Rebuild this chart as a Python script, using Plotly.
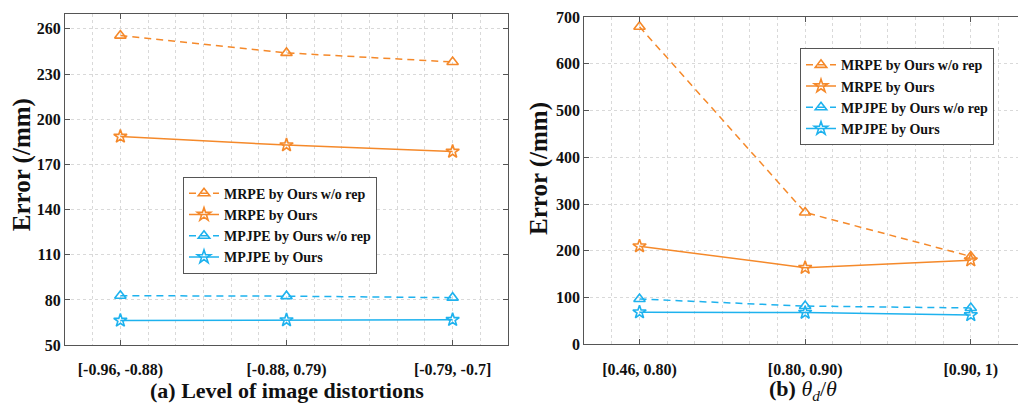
import plotly.graph_objects as go

# Category labels for the two panels
bins_a = ["[-0.96, -0.88)", "[-0.88, 0.79)", "[-0.79, -0.7]"]
bins_b = ["[0.46, 0.80)", "[0.80, 0.90)", "[0.90, 1)"]
pos = [1, 2, 3]

# (a) errors by level of image distortion
mrpe_norep_a = [255.5, 244.0, 238.0]
mrpe_ours_a = [188.5, 182.8, 178.5]
mpjpe_norep_a = [82.8, 82.5, 81.5]
mpjpe_ours_a = [66.3, 66.6, 66.8]

# (b) errors by theta_d / theta
mrpe_norep_b = [679.0, 282.0, 188.0]
mrpe_ours_b = [210.0, 164.0, 180.0]
mpjpe_norep_b = [97.0, 82.0, 78.0]
mpjpe_ours_b = [69.0, 68.0, 63.0]

series_names = ["MRPE by Ours w/o rep", "MRPE by Ours",
                "MPJPE by Ours w/o rep", "MPJPE by Ours"]

ORANGE = "#F5892A"
CYAN = "#1EB2EE"
FONT = "Liberation Serif"
AXIS = "#555555"
GRID = "#d9d9d9"

W, H = 1018, 410
fig = go.Figure()


def add_panel(vals, xa, ya, legend):
    styles = [
        (ORANGE, "7px,5px", "triangle-up-open", 10),
        (ORANGE, "solid", "star-open", 10),
        (CYAN, "7px,5px", "triangle-up-open", 10),
        (CYAN, "solid", "star-open", 10),
    ]
    for name, v, (col, dash, sym, sz) in zip(series_names, vals, styles):
        fig.add_trace(go.Scatter(
            x=pos, y=v, name=name, mode="lines+markers",
            xaxis=xa, yaxis=ya, legend=legend,
            line=dict(color=col, width=1.5, dash=dash),
            marker=dict(symbol=sym, size=sz, color=col,
                        line=dict(width=1.6, color=col)),
        ))


add_panel([mrpe_norep_a, mrpe_ours_a, mpjpe_norep_a, mpjpe_ours_a], "x", "y", "legend")
add_panel([mrpe_norep_b, mrpe_ours_b, mpjpe_norep_b, mpjpe_ours_b], "x2", "y2", "legend2")

tickfont = dict(family=FONT, size=16, color="#111111", weight="bold")
minor_x = [1 + k / 6 for k in range(-2, 14) if k % 6 != 0]

xcommon = dict(
    tickmode="array", tickvals=pos, showline=True, linecolor=AXIS, linewidth=1.2,
    mirror="ticks", ticks="inside", ticklen=5, tickcolor=AXIS, ticklabelstandoff=10,
    showgrid=True, gridcolor=GRID, griddash="dot", gridwidth=1,
    minor=dict(tickmode="array", tickvals=minor_x, showgrid=True,
               gridcolor=GRID, griddash="dot", gridwidth=1, ticks=""),
    tickfont=tickfont, zeroline=False, fixedrange=True,
)
ycommon = dict(
    showline=True, linecolor=AXIS, linewidth=1.2, ticks="inside", ticklen=5,
    tickcolor=AXIS, showgrid=True, gridcolor=GRID, griddash="dot", gridwidth=1,
    tickfont=tickfont, zeroline=False, fixedrange=True,
)

legend_style = dict(
    xanchor="left", yanchor="top", bgcolor="white", bordercolor="#555555",
    borderwidth=1, font=dict(family=FONT, size=14, color="#111111", weight="bold"),
    tracegroupgap=0, itemwidth=30,
)

fig.update_layout(
    width=W, height=H, margin=dict(l=0, r=0, t=0, b=0),
    paper_bgcolor="white", plot_bgcolor="white",
    xaxis=dict(xcommon, domain=[65 / W, 508 / W], range=[2 / 3, 10 / 3],
               ticktext=bins_a, anchor="y"),
    yaxis=dict(ycommon, domain=[1 - 351.7 / H, 1 - 6 / H], range=[50, 270],
               tickvals=[50, 80, 110, 140, 170, 200, 230, 260], mirror="ticks",
               anchor="x"),
    xaxis2=dict(xcommon, domain=[584.3 / W, 1.0], range=[2 / 3, 3.285],
                ticktext=bins_b, anchor="y2"),
    yaxis2=dict(ycommon, domain=[1 - 351 / H, 1 - 9.3 / H], range=[0, 700],
                dtick=100, mirror=False, anchor="x2"),
    legend=dict(legend_style, x=183 / W, y=1 - 176 / H),
    legend2=dict(legend_style, x=800 / W, y=1 - 42 / H),
    showlegend=True,
)

ytitle_font = dict(family=FONT, size=25, color="#111111")
xtitle_font = dict(family=FONT, size=22, color="#111111")
common_ann = dict(xref="paper", yref="paper", showarrow=False,
                  xanchor="center", yanchor="middle")
fig.add_annotation(common_ann, text="<b>Error (/mm)</b>", textangle=-90,
                   x=22 / W, y=1 - 164 / H, font=ytitle_font)
fig.add_annotation(common_ann, text="<b>Error (/mm)</b>", textangle=-90,
                   x=539 / W, y=1 - 168 / H, font=ytitle_font)
fig.add_annotation(common_ann, text="<b>(a) Level of image distortions</b>",
                   x=287 / W, y=1 - 399 / H, font=xtitle_font)
fig.add_annotation(common_ann, text="<b>(b)</b> <i>θ</i><sub><i>d</i></sub>/<i>θ</i>",
                   x=803 / W, y=1 - 399 / H, font=xtitle_font)

fig.write_html("out.html")
